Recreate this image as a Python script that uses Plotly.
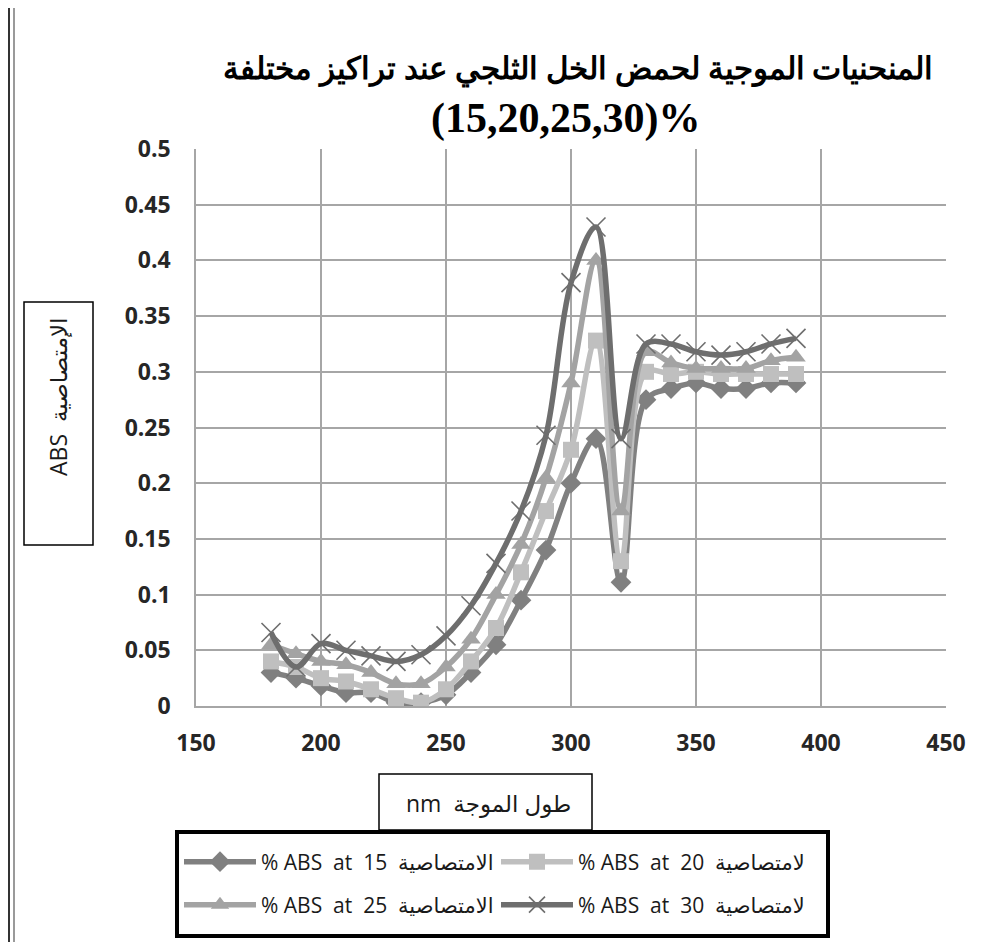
import plotly.graph_objects as go

# ---------------- data ----------------
wavelength = [180, 190, 200, 210, 220, 230, 240, 250, 260, 270, 280,
              290, 300, 310, 320, 330, 340, 350, 360, 370, 380, 390]

abs_15 = [0.030, 0.025, 0.018, 0.012, 0.012, 0.003, 0.003, 0.010, 0.030, 0.055, 0.095,
          0.140, 0.200, 0.240, 0.111, 0.275, 0.285, 0.290, 0.285, 0.285, 0.290, 0.290]
abs_20 = [0.040, 0.035, 0.025, 0.022, 0.015, 0.007, 0.003, 0.015, 0.040, 0.070, 0.120,
          0.175, 0.230, 0.328, 0.130, 0.300, 0.298, 0.300, 0.298, 0.298, 0.298, 0.298]
abs_25 = [0.055, 0.047, 0.040, 0.037, 0.030, 0.020, 0.020, 0.035, 0.060, 0.100, 0.145,
          0.205, 0.290, 0.400, 0.175, 0.318, 0.308, 0.303, 0.303, 0.303, 0.310, 0.313]
abs_30 = [0.066, 0.035, 0.056, 0.050, 0.045, 0.040, 0.046, 0.063, 0.090, 0.128, 0.175,
          0.243, 0.380, 0.430, 0.240, 0.325, 0.325, 0.318, 0.315, 0.318, 0.325, 0.330]

NB = "\u00a0"
names = [
    "%" + NB + "ABS" + NB * 2 + "at" + NB * 2 + "15" + NB * 2 + "الامتصاصية",
    "%" + NB + "ABS" + NB * 2 + "at" + NB * 2 + "20" + NB * 2 + "لامتصاصية",
    "%" + NB + "ABS" + NB * 2 + "at" + NB * 2 + "25" + NB * 2 + "الامتصاصية",
    "%" + NB + "ABS" + NB * 2 + "at" + NB * 2 + "30" + NB * 2 + "لامتصاصية",
]
series = [abs_15, abs_20, abs_25, abs_30]
colors = ["#808080", "#bfbfbf", "#a3a3a3", "#6e6e6e"]
symbols = ["diamond", "square", "triangle-up", "x-thin-open"]
msizes = [16, 16, 17, 19]
legends = ["legend", "legend2", "legend3", "legend4"]

x_ticks = [150, 200, 250, 300, 350, 400, 450]
y_ticks = [0, 0.05, 0.1, 0.15, 0.2, 0.25, 0.3, 0.35, 0.4, 0.45, 0.5]
y_tick_text = ["0", "0.05", "0.1", "0.15", "0.2", "0.25", "0.3", "0.35", "0.4", "0.45", "0.5"]

title_1 = "المنحنيات الموجية لحمض الخل الثلجي عند تراكيز مختلفة"
title_2 = "(15,20,25,30)%"
y_title = "ABS" + NB * 2 + "الإمتصاصية"
x_title = "nm" + NB * 2 + "طول الموجة"

# ---------------- layout helpers (page pixel -> paper) ----------------
OFF = 8  # page body margin
W, H = 982, 934
ML, MR, MT, MB = 188, 44, 141, 236
PW, PH = W - ML - MR, H - MT - MB


def px(x):
    return (x - OFF - ML) / PW


def py(y):
    return (H - MB - (y - OFF)) / PH


fig = go.Figure()
for ys, nm, c, s, ms, lg in zip(series, names, colors, symbols, msizes, legends):
    marker = dict(symbol=s, size=ms, color=c)
    if s.startswith("x"):
        marker["line"] = dict(color=c, width=1.6)
    fig.add_trace(go.Scatter(
        x=wavelength, y=ys, name=nm, mode="lines+markers",
        line=dict(color=c, width=5.5, shape="spline", smoothing=1.0),
        marker=marker, legend=lg,
    ))

axis_font = dict(family="Open Sans, DejaVu Sans", size=23, color="#262626", weight="bold")

fig.update_xaxes(range=[150, 450], tickvals=x_ticks, ticktext=[str(v) for v in x_ticks],
                 showgrid=True, gridcolor="#a6a6a6", gridwidth=1.5,
                 showline=True, linecolor="#a6a6a6", linewidth=1.5,
                 zeroline=False, tickfont=axis_font, ticks="", ticklabelstandoff=16)
fig.update_yaxes(range=[0, 0.5], tickvals=y_ticks, ticktext=y_tick_text,
                 showgrid=True, gridcolor="#a6a6a6", gridwidth=1.5,
                 showline=True, linecolor="#a6a6a6", linewidth=1.5,
                 zeroline=False, tickfont=axis_font, ticks="", ticklabelstandoff=19)

leg_common = dict(orientation="h", xanchor="left", yanchor="middle",
                  font=dict(family="Open Sans, DejaVu Sans", size=21, color="#1a1a1a"),
                  bgcolor="rgba(0,0,0,0)", borderwidth=0, itemwidth=72)

shapes = [
    # legend frame
    dict(type="rect", xref="paper", yref="paper", x0=px(177), x1=px(828), y0=py(936), y1=py(832),
         line=dict(color="black", width=4), fillcolor="white", layer="below"),
    # y title box
    dict(type="rect", xref="paper", yref="paper", x0=px(24), x1=px(93), y0=py(545), y1=py(302),
         line=dict(color="black", width=1.5)),
    # x title box
    dict(type="rect", xref="paper", yref="paper", x0=px(379), x1=px(592), y0=py(830), y1=py(774),
         line=dict(color="black", width=1.5)),
    # outer borders
    dict(type="line", xref="paper", yref="paper", x0=px(9), x1=px(9), y0=py(8), y1=py(942),
         line=dict(color="#333333", width=2)),
    dict(type="line", xref="paper", yref="paper", x0=px(14), x1=px(14), y0=py(8), y1=py(942),
         line=dict(color="#9a9a9a", width=2)),
    dict(type="line", xref="paper", yref="paper", x0=px(986), x1=px(986), y0=py(8), y1=py(942),
         line=dict(color="#555555", width=2)),
]

annotations = [
    dict(text=title_1, x=px(578), y=py(70), xref="paper", yref="paper", showarrow=False,
         font=dict(family="Liberation Serif, Tinos, serif", size=31, color="black", weight="bold"),
         xanchor="center", yanchor="middle"),
    dict(text=title_2, x=px(565), y=py(118), xref="paper", yref="paper", showarrow=False,
         font=dict(family="Liberation Serif, Tinos, serif", size=42, color="black", weight="bold"),
         xanchor="center", yanchor="middle"),
    dict(text=y_title, x=px(58), y=py(397), xref="paper", yref="paper", showarrow=False,
         textangle=-90, font=dict(family="Open Sans, DejaVu Sans", size=23, color="#1a1a1a"),
         xanchor="center", yanchor="middle"),
    dict(text=x_title, x=px(488), y=py(803), xref="paper", yref="paper", showarrow=False,
         font=dict(family="Open Sans, DejaVu Sans", size=23, color="#1a1a1a"),
         xanchor="center", yanchor="middle"),
]

fig.update_layout(
    width=W, height=H,
    margin=dict(l=ML, r=MR, t=MT, b=MB),
    paper_bgcolor="white", plot_bgcolor="white",
    showlegend=True,
    legend=dict(x=px(179), y=py(862), **leg_common),
    legend2=dict(x=px(496), y=py(862), **leg_common),
    legend3=dict(x=px(179), y=py(905), **leg_common),
    legend4=dict(x=px(496), y=py(905), **leg_common),
    shapes=shapes, annotations=annotations,
)

fig.write_html("out.html")
